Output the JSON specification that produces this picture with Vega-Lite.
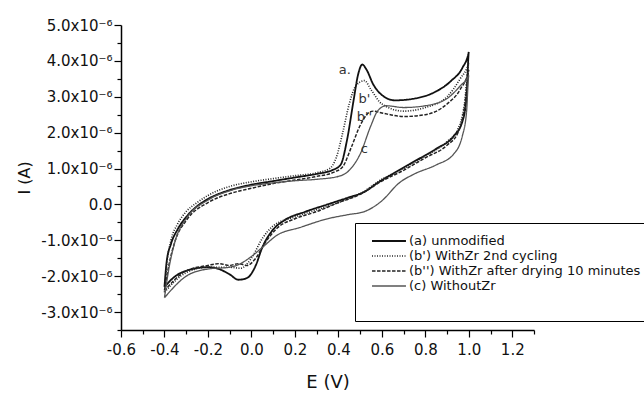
{
  "$schema": "https://vega.github.io/schema/vega-lite/v6.json",
  "autosize": {"type": "none"},
  "width": 413,
  "height": 305,
  "padding": {"left": 121, "top": 25, "right": 110, "bottom": 63},
  "config": {
    "font": "DejaVu Sans",
    "view": {"stroke": null},
    "axis": {"domainColor": "black", "tickColor": "black", "labelColor": "#111", "titleColor": "#111", "grid": false, "domainWidth": 1.5, "tickWidth": 1.2, "labelOverlap": false, "labelBound": false, "tickCount": 100}
  },
  "layer": [
    {
      "data": {"values": [
        {"s":"a","E":-0.4,"I":-2.3e-6,"i":0},{"s":"a","E":-0.39,"I":-1.6e-6,"i":1},{"s":"a","E":-0.37,"I":-1.1e-6,"i":2},{"s":"a","E":-0.34,"I":-0.7e-6,"i":3},{"s":"a","E":-0.3,"I":-0.35e-6,"i":4},{"s":"a","E":-0.25,"I":-0.05e-6,"i":5},{"s":"a","E":-0.2,"I":0.15e-6,"i":6},{"s":"a","E":-0.1,"I":0.4e-6,"i":7},{"s":"a","E":0.0,"I":0.55e-6,"i":8},{"s":"a","E":0.1,"I":0.65e-6,"i":9},{"s":"a","E":0.2,"I":0.75e-6,"i":10},{"s":"a","E":0.3,"I":0.85e-6,"i":11},{"s":"a","E":0.37,"I":0.95e-6,"i":12},{"s":"a","E":0.41,"I":1.1e-6,"i":13},{"s":"a","E":0.44,"I":1.8e-6,"i":14},{"s":"a","E":0.47,"I":2.9e-6,"i":15},{"s":"a","E":0.49,"I":3.6e-6,"i":16},{"s":"a","E":0.51,"I":3.9e-6,"i":17},{"s":"a","E":0.53,"I":3.75e-6,"i":18},{"s":"a","E":0.56,"I":3.35e-6,"i":19},{"s":"a","E":0.6,"I":3.05e-6,"i":20},{"s":"a","E":0.66,"I":2.9e-6,"i":21},{"s":"a","E":0.75,"I":2.95e-6,"i":22},{"s":"a","E":0.85,"I":3.15e-6,"i":23},{"s":"a","E":0.92,"I":3.45e-6,"i":24},{"s":"a","E":0.97,"I":3.8e-6,"i":25},{"s":"a","E":1.0,"I":4.25e-6,"i":26},{"s":"a","E":0.99,"I":3.0e-6,"i":27},{"s":"a","E":0.97,"I":2.3e-6,"i":28},{"s":"a","E":0.93,"I":1.9e-6,"i":29},{"s":"a","E":0.85,"I":1.55e-6,"i":30},{"s":"a","E":0.75,"I":1.2e-6,"i":31},{"s":"a","E":0.65,"I":0.85e-6,"i":32},{"s":"a","E":0.58,"I":0.6e-6,"i":33},{"s":"a","E":0.52,"I":0.35e-6,"i":34},{"s":"a","E":0.45,"I":0.2e-6,"i":35},{"s":"a","E":0.35,"I":0.0,"i":36},{"s":"a","E":0.25,"I":-0.2e-6,"i":37},{"s":"a","E":0.15,"I":-0.45e-6,"i":38},{"s":"a","E":0.1,"I":-0.7e-6,"i":39},{"s":"a","E":0.05,"I":-1.2e-6,"i":40},{"s":"a","E":0.02,"I":-1.7e-6,"i":41},{"s":"a","E":-0.02,"I":-2.05e-6,"i":42},{"s":"a","E":-0.06,"I":-2.1e-6,"i":43},{"s":"a","E":-0.1,"I":-1.95e-6,"i":44},{"s":"a","E":-0.15,"I":-1.8e-6,"i":45},{"s":"a","E":-0.2,"I":-1.75e-6,"i":46},{"s":"a","E":-0.3,"I":-1.85e-6,"i":47},{"s":"a","E":-0.35,"I":-2.0e-6,"i":48},{"s":"a","E":-0.4,"I":-2.3e-6,"i":49},

        {"s":"b1","E":-0.4,"I":-2.45e-6,"i":0},{"s":"b1","E":-0.39,"I":-1.7e-6,"i":1},{"s":"b1","E":-0.37,"I":-1.0e-6,"i":2},{"s":"b1","E":-0.34,"I":-0.55e-6,"i":3},{"s":"b1","E":-0.3,"I":-0.2e-6,"i":4},{"s":"b1","E":-0.25,"I":0.05e-6,"i":5},{"s":"b1","E":-0.2,"I":0.25e-6,"i":6},{"s":"b1","E":-0.1,"I":0.5e-6,"i":7},{"s":"b1","E":0.0,"I":0.63e-6,"i":8},{"s":"b1","E":0.1,"I":0.72e-6,"i":9},{"s":"b1","E":0.2,"I":0.8e-6,"i":10},{"s":"b1","E":0.3,"I":0.88e-6,"i":11},{"s":"b1","E":0.36,"I":1.0e-6,"i":12},{"s":"b1","E":0.39,"I":1.3e-6,"i":13},{"s":"b1","E":0.42,"I":2.0e-6,"i":14},{"s":"b1","E":0.45,"I":2.8e-6,"i":15},{"s":"b1","E":0.48,"I":3.3e-6,"i":16},{"s":"b1","E":0.52,"I":3.45e-6,"i":17},{"s":"b1","E":0.55,"I":3.2e-6,"i":18},{"s":"b1","E":0.6,"I":2.8e-6,"i":19},{"s":"b1","E":0.7,"I":2.6e-6,"i":20},{"s":"b1","E":0.8,"I":2.7e-6,"i":21},{"s":"b1","E":0.9,"I":3.0e-6,"i":22},{"s":"b1","E":0.96,"I":3.5e-6,"i":23},{"s":"b1","E":1.0,"I":3.95e-6,"i":24},{"s":"b1","E":0.98,"I":2.8e-6,"i":25},{"s":"b1","E":0.95,"I":2.1e-6,"i":26},{"s":"b1","E":0.9,"I":1.75e-6,"i":27},{"s":"b1","E":0.8,"I":1.35e-6,"i":28},{"s":"b1","E":0.7,"I":1.0e-6,"i":29},{"s":"b1","E":0.6,"I":0.7e-6,"i":30},{"s":"b1","E":0.5,"I":0.3e-6,"i":31},{"s":"b1","E":0.4,"I":0.05e-6,"i":32},{"s":"b1","E":0.3,"I":-0.15e-6,"i":33},{"s":"b1","E":0.2,"I":-0.35e-6,"i":34},{"s":"b1","E":0.1,"I":-0.6e-6,"i":35},{"s":"b1","E":0.05,"I":-0.95e-6,"i":36},{"s":"b1","E":0.0,"I":-1.5e-6,"i":37},{"s":"b1","E":-0.05,"I":-1.78e-6,"i":38},{"s":"b1","E":-0.1,"I":-1.75e-6,"i":39},{"s":"b1","E":-0.2,"I":-1.75e-6,"i":40},{"s":"b1","E":-0.3,"I":-1.9e-6,"i":41},{"s":"b1","E":-0.4,"I":-2.45e-6,"i":42},

        {"s":"b2","E":-0.4,"I":-2.4e-6,"i":0},{"s":"b2","E":-0.38,"I":-1.7e-6,"i":1},{"s":"b2","E":-0.35,"I":-1.0e-6,"i":2},{"s":"b2","E":-0.3,"I":-0.45e-6,"i":3},{"s":"b2","E":-0.2,"I":0.05e-6,"i":4},{"s":"b2","E":-0.1,"I":0.3e-6,"i":5},{"s":"b2","E":0.0,"I":0.45e-6,"i":6},{"s":"b2","E":0.1,"I":0.58e-6,"i":7},{"s":"b2","E":0.2,"I":0.68e-6,"i":8},{"s":"b2","E":0.3,"I":0.78e-6,"i":9},{"s":"b2","E":0.38,"I":0.9e-6,"i":10},{"s":"b2","E":0.42,"I":1.05e-6,"i":11},{"s":"b2","E":0.46,"I":1.6e-6,"i":12},{"s":"b2","E":0.5,"I":2.2e-6,"i":13},{"s":"b2","E":0.53,"I":2.5e-6,"i":14},{"s":"b2","E":0.56,"I":2.6e-6,"i":15},{"s":"b2","E":0.6,"I":2.55e-6,"i":16},{"s":"b2","E":0.7,"I":2.45e-6,"i":17},{"s":"b2","E":0.8,"I":2.5e-6,"i":18},{"s":"b2","E":0.9,"I":2.8e-6,"i":19},{"s":"b2","E":0.96,"I":3.2e-6,"i":20},{"s":"b2","E":1.0,"I":3.75e-6,"i":21},{"s":"b2","E":0.98,"I":2.7e-6,"i":22},{"s":"b2","E":0.95,"I":2.0e-6,"i":23},{"s":"b2","E":0.9,"I":1.65e-6,"i":24},{"s":"b2","E":0.8,"I":1.3e-6,"i":25},{"s":"b2","E":0.7,"I":0.95e-6,"i":26},{"s":"b2","E":0.6,"I":0.65e-6,"i":27},{"s":"b2","E":0.5,"I":0.28e-6,"i":28},{"s":"b2","E":0.4,"I":0.05e-6,"i":29},{"s":"b2","E":0.3,"I":-0.2e-6,"i":30},{"s":"b2","E":0.2,"I":-0.4e-6,"i":31},{"s":"b2","E":0.12,"I":-0.65e-6,"i":32},{"s":"b2","E":0.06,"I":-1.1e-6,"i":33},{"s":"b2","E":0.02,"I":-1.5e-6,"i":34},{"s":"b2","E":-0.02,"I":-1.7e-6,"i":35},{"s":"b2","E":-0.06,"I":-1.65e-6,"i":36},{"s":"b2","E":-0.1,"I":-1.7e-6,"i":37},{"s":"b2","E":-0.15,"I":-1.65e-6,"i":38},{"s":"b2","E":-0.2,"I":-1.7e-6,"i":39},{"s":"b2","E":-0.3,"I":-1.85e-6,"i":40},{"s":"b2","E":-0.4,"I":-2.4e-6,"i":41},

        {"s":"c","E":-0.4,"I":-2.6e-6,"i":0},{"s":"c","E":-0.38,"I":-1.8e-6,"i":1},{"s":"c","E":-0.35,"I":-1.0e-6,"i":2},{"s":"c","E":-0.3,"I":-0.4e-6,"i":3},{"s":"c","E":-0.2,"I":0.12e-6,"i":4},{"s":"c","E":-0.1,"I":0.38e-6,"i":5},{"s":"c","E":0.0,"I":0.52e-6,"i":6},{"s":"c","E":0.1,"I":0.6e-6,"i":7},{"s":"c","E":0.2,"I":0.66e-6,"i":8},{"s":"c","E":0.3,"I":0.7e-6,"i":9},{"s":"c","E":0.4,"I":0.78e-6,"i":10},{"s":"c","E":0.45,"I":0.95e-6,"i":11},{"s":"c","E":0.5,"I":1.4e-6,"i":12},{"s":"c","E":0.55,"I":2.2e-6,"i":13},{"s":"c","E":0.58,"I":2.6e-6,"i":14},{"s":"c","E":0.62,"I":2.75e-6,"i":15},{"s":"c","E":0.7,"I":2.7e-6,"i":16},{"s":"c","E":0.8,"I":2.75e-6,"i":17},{"s":"c","E":0.9,"I":2.95e-6,"i":18},{"s":"c","E":0.96,"I":3.3e-6,"i":19},{"s":"c","E":1.0,"I":3.6e-6,"i":20},{"s":"c","E":0.99,"I":2.6e-6,"i":21},{"s":"c","E":0.97,"I":1.9e-6,"i":22},{"s":"c","E":0.93,"I":1.4e-6,"i":23},{"s":"c","E":0.85,"I":1.1e-6,"i":24},{"s":"c","E":0.75,"I":0.85e-6,"i":25},{"s":"c","E":0.68,"I":0.6e-6,"i":26},{"s":"c","E":0.6,"I":0.1e-6,"i":27},{"s":"c","E":0.52,"I":-0.2e-6,"i":28},{"s":"c","E":0.45,"I":-0.28e-6,"i":29},{"s":"c","E":0.35,"I":-0.4e-6,"i":30},{"s":"c","E":0.22,"I":-0.65e-6,"i":31},{"s":"c","E":0.12,"I":-0.85e-6,"i":32},{"s":"c","E":0.05,"I":-1.2e-6,"i":33},{"s":"c","E":0.0,"I":-1.45e-6,"i":34},{"s":"c","E":-0.05,"I":-1.65e-6,"i":35},{"s":"c","E":-0.1,"I":-1.75e-6,"i":36},{"s":"c","E":-0.2,"I":-1.8e-6,"i":37},{"s":"c","E":-0.3,"I":-2.0e-6,"i":38},{"s":"c","E":-0.4,"I":-2.6e-6,"i":39}
      ]},
      "mark": {"type": "line", "clip": true, "interpolate": "monotone"},
      "encoding": {
        "x": {"field": "E", "type": "quantitative", "scale": {"domain": [-0.6, 1.3], "nice": false, "zero": false},
          "axis": {"title": "E (V)", "titleFontSize": 18, "titleFontWeight": "normal", "titlePadding": 16, "labelFontSize": 15, "labelPadding": 5, "labelFlush": false,
            "values": [-0.6,-0.5,-0.4,-0.3,-0.2,-0.1,0,0.1,0.2,0.3,0.4,0.5,0.6,0.7,0.8,0.9,1.0,1.1,1.2,1.3],
            "labelExpr": "abs(round(datum.value*10)) % 2 == 0 && datum.value < 1.25 ? replace(format(datum.value, '.1f'), '−', '-') : ''",
            "tickSize": {"condition": {"test": "abs(round(datum.value*10)) % 2 == 0", "value": 7}, "value": 4}}},
        "y": {"field": "I", "type": "quantitative", "scale": {"domain": [-3.5e-6, 5e-6], "nice": false, "zero": false},
          "axis": {"title": "I (A)", "titleFontSize": 16, "titleFontWeight": "normal", "titlePadding": 8, "labelFontSize": 15, "labelPadding": 2, "labelFlush": false,
            "values": [-3.5e-6,-3e-6,-2.5e-6,-2e-6,-1.5e-6,-1e-6,-0.5e-6,0,0.5e-6,1e-6,1.5e-6,2e-6,2.5e-6,3e-6,3.5e-6,4e-6,4.5e-6,5e-6],
            "labelExpr": "abs(round(datum.value*2e6)) % 2 == 1 || datum.value < -3.2e-6 ? '' : (abs(datum.value) < 1e-9 ? '0.0' : replace(format(datum.value*1e6, '.1f'), '−', '-') + 'x10⁻⁶')",
            "tickSize": {"condition": {"test": "abs(round(datum.value*2e6)) % 2 == 0", "value": 7}, "value": 4}}},
        "order": {"field": "i", "type": "quantitative"},
        "color": {"field": "s", "type": "nominal",
          "scale": {"domain": ["a","b1","b2","c"], "range": ["#111111","#222222","#222222","#555555"]},
          "legend": {"title": " ", "titleOrient": "bottom", "titleFontSize": 12, "titlePadding": 7, "orient": "none", "legendX": 234, "legendY": 198, "strokeColor": "black", "fillColor": "white",
            "padding": 10, "labelFontSize": 13, "labelColor": "#111", "symbolType": "M-0.14,0H4.71", "symbolSize": 196, "symbolStrokeWidth": 1.2, "rowPadding": 0, "labelOffset": 28, "labelLimit": 400,
            "labelExpr": "datum.label == 'a' ? '(a) unmodified' : datum.label == 'b1' ? \"(b') WithZr 2nd cycling\" : datum.label == 'b2' ? \"(b'') WithZr after drying 10 minutes\" : '(c) WithoutZr'"}},
        "strokeDash": {"field": "s", "type": "nominal", "legend": null, "scale": {"domain": ["a","b1","b2","c"], "range": [[1,0],[1,1.5],[3.5,1.5],[1,0]]}},
        "strokeWidth": {"field": "s", "type": "nominal", "legend": null, "scale": {"domain": ["a","b1","b2","c"], "range": [1.8,1.3,1.6,1.0]}}
      }
    },
    {
      "data": {"values": [
        {"t":"a.","E":0.43,"I":3.75e-6},
        {"t":"b'","E":0.52,"I":2.95e-6},
        {"t":"b''","E":0.52,"I":2.45e-6},
        {"t":"c","E":0.52,"I":1.55e-6}
      ]},
      "mark": {"type": "text", "fontSize": 13, "fill": "#333", "align": "center", "baseline": "middle"},
      "encoding": {
        "x": {"field": "E", "type": "quantitative"},
        "y": {"field": "I", "type": "quantitative"},
        "text": {"field": "t"}
      }
    }
  ]
}
